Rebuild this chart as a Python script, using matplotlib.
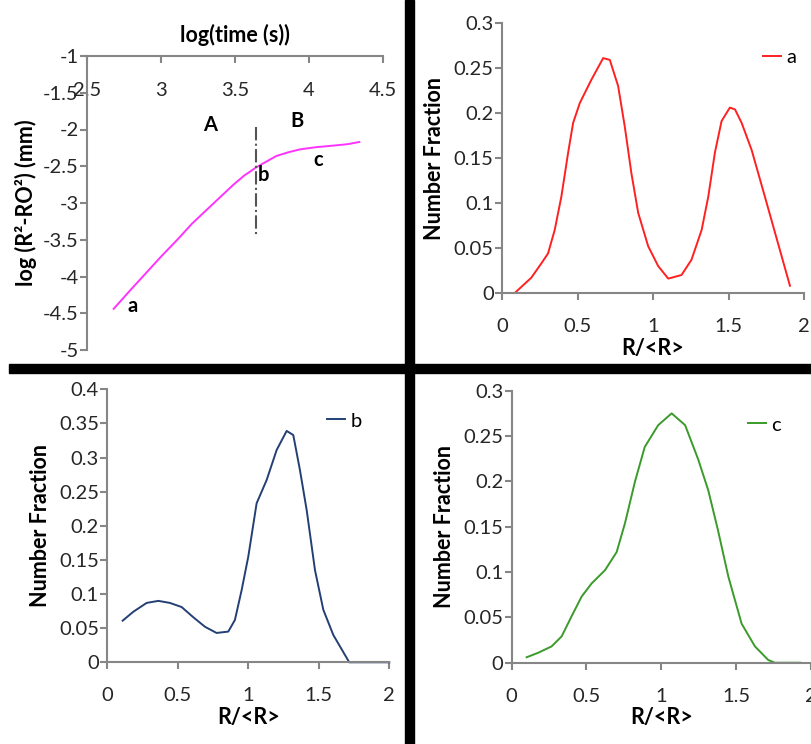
#!/usr/bin/env python3

import matplotlib
matplotlib.use("Agg")
import matplotlib.pyplot as plt
from matplotlib.ticker import FuncFormatter, MultipleLocator
from matplotlib.patches import Rectangle

# growth curve, panel 1
log_time = [2.68, 2.80, 2.90, 3.00, 3.11, 3.21, 3.31, 3.40, 3.49, 3.56,
            3.64, 3.70, 3.78, 3.86, 3.94, 4.05, 4.16, 4.26, 4.34]
log_r2 = [-4.44, -4.17, -3.95, -3.73, -3.50, -3.28, -3.09, -2.92, -2.75, -2.63,
          -2.52, -2.45, -2.36, -2.31, -2.27, -2.24, -2.22, -2.20, -2.17]
split_x = 3.64
split_y = [-1.97, -3.43]
point_labels = ["A", "B", "a", "b", "c"]
point_pos = [(3.33, -1.94), (3.92, -1.88), (2.81, -4.40), (3.69, -2.62), (4.06, -2.42)]

# size distributions
r_a = [0.091, 0.194, 0.261, 0.305, 0.349, 0.393, 0.438, 0.471, 0.515, 0.592,
       0.670, 0.714, 0.769, 0.813, 0.857, 0.902, 0.968, 1.034, 1.101, 1.189,
       1.255, 1.322, 1.366, 1.410, 1.454, 1.509, 1.543, 1.587, 1.653, 1.741,
       1.808, 1.907]
frac_a = [0.001, 0.017, 0.033, 0.044, 0.070, 0.107, 0.156, 0.189, 0.211, 0.237,
          0.261, 0.259, 0.230, 0.185, 0.133, 0.089, 0.052, 0.030, 0.016, 0.020,
          0.037, 0.070, 0.107, 0.156, 0.191, 0.206, 0.204, 0.189, 0.159, 0.107,
          0.067, 0.008]

r_b = [0.109, 0.184, 0.279, 0.362, 0.444, 0.527, 0.610, 0.693, 0.775, 0.858,
       0.905, 0.953, 1.000, 1.059, 1.130, 1.201, 1.272, 1.319, 1.366, 1.414,
       1.473, 1.532, 1.603, 1.716, 1.863, 2.0]
frac_b = [0.061, 0.074, 0.087, 0.090, 0.087, 0.081, 0.066, 0.052, 0.043, 0.045,
          0.062, 0.106, 0.155, 0.233, 0.267, 0.311, 0.339, 0.333, 0.282, 0.223,
          0.135, 0.077, 0.040, 0.0, 0.0, 0.0]

r_c = [0.10, 0.178, 0.267, 0.334, 0.40, 0.468, 0.535, 0.624, 0.702, 0.758,
       0.825, 0.89, 0.98, 1.07, 1.16, 1.248, 1.315, 1.38, 1.449, 1.538,
       1.627, 1.716, 1.76, 1.93]
frac_c = [0.006, 0.011, 0.018, 0.029, 0.051, 0.073, 0.0875, 0.102, 0.122, 0.154,
          0.20, 0.238, 0.262, 0.275, 0.262, 0.224, 0.19, 0.146, 0.095, 0.043,
          0.018, 0.003, 0.0, 0.0]

plt.rcParams["font.family"] = ["Lato", "DejaVu Sans"]
plt.rcParams["axes.unicode_minus"] = False

W, H = 811, 744
AXIS_COL = "#868686"
TICK_SIZE = 14.5
LABEL_SIZE = 15.5


def rect(left, top, right, bottom):
    return [left / W, 1 - bottom / H, (right - left) / W, (bottom - top) / H]


def fmt(v, pos):
    return "%g" % round(v, 4)


def style_axes(ax):
    for s in ["top", "right"]:
        ax.spines[s].set_visible(False)
    for s in ["left", "bottom"]:
        ax.spines[s].set_color(AXIS_COL)
        ax.spines[s].set_linewidth(1.5)
    ax.tick_params(colors=AXIS_COL, labelcolor="#262626", labelsize=TICK_SIZE,
                   length=5, width=1.5, direction="out")
    ax.tick_params(axis="y", pad=1)
    ax.tick_params(axis="x", pad=13)
    ax.xaxis.set_major_formatter(FuncFormatter(fmt))
    ax.yaxis.set_major_formatter(FuncFormatter(fmt))
    ax.patch.set_alpha(0)


def dist_panel(ax, r, frac, color, name, ymax, leg_xy):
    style_axes(ax)
    ax.plot(r, frac, color=color, lw=1.4, label=name, clip_on=False,
            solid_joinstyle="round")
    ax.set_xlim(0, 2)
    ax.set_ylim(0, ymax)
    ax.xaxis.set_major_locator(MultipleLocator(0.5))
    ax.yaxis.set_major_locator(MultipleLocator(0.05))
    ax.set_xlabel("R/<R>", fontsize=LABEL_SIZE, fontweight="bold", labelpad=2)
    ax.set_ylabel("Number Fraction", fontsize=LABEL_SIZE, fontweight="bold", labelpad=6)
    ax.legend(loc="center left", bbox_to_anchor=leg_xy, frameon=False,
              fontsize=TICK_SIZE, handlelength=0.9, handletextpad=0.25,
              borderpad=0, borderaxespad=0)


fig = plt.figure(figsize=(W / 100, H / 100), dpi=100)

# panel 1: growth curve
ax1 = fig.add_axes(rect(87, 56, 383, 350))
style_axes(ax1)
ax1.plot(log_time, log_r2, color="#ff33ff", lw=1.4, solid_joinstyle="round")
ax1.plot([split_x, split_x], split_y, color="#555555", lw=1.5, ls="-.")
for t, (x, y) in zip(point_labels, point_pos):
    ax1.text(x, y, t, fontsize=TICK_SIZE, fontweight="bold", ha="center", va="center")
ax1.set_xlim(2.5, 4.5)
ax1.set_ylim(-5, -1)
ax1.xaxis.set_major_locator(MultipleLocator(0.5))
ax1.yaxis.set_major_locator(MultipleLocator(0.5))
ax1.spines["bottom"].set_position(("data", -1))
ax1.tick_params(axis="x", pad=14)
ax1.set_xlabel("log(time (s))", fontsize=LABEL_SIZE, fontweight="bold", labelpad=10)
ax1.xaxis.set_label_position("top")
ax1.set_ylabel("log (R²-RO²) (mm)", fontsize=LABEL_SIZE, fontweight="bold", labelpad=4)

# panels 2-4: size distributions
ax2 = fig.add_axes(rect(502, 23, 804, 293))
dist_panel(ax2, r_a, frac_a, "#ff2020", "a", 0.3, (0.864, 0.874))

ax3 = fig.add_axes(rect(107.3, 389.3, 389.3, 662.3))
dist_panel(ax3, r_b, frac_b, "#243f74", "b", 0.4, (0.779, 0.884))

ax4 = fig.add_axes(rect(511.7, 390.7, 810.7, 662.7))
dist_panel(ax4, r_c, frac_c, "#3a9a2a", "c", 0.3, (0.790, 0.874))

# black dividers between the four panels
fig.add_artist(Rectangle((9 / W, 1 - 373 / H), 1, 9 / H, transform=fig.transFigure,
                         color="black", zorder=10))
fig.add_artist(Rectangle((405 / W, 0), 9 / W, 1, transform=fig.transFigure,
                         color="black", zorder=10))

fig.savefig("out.png", dpi=100)
